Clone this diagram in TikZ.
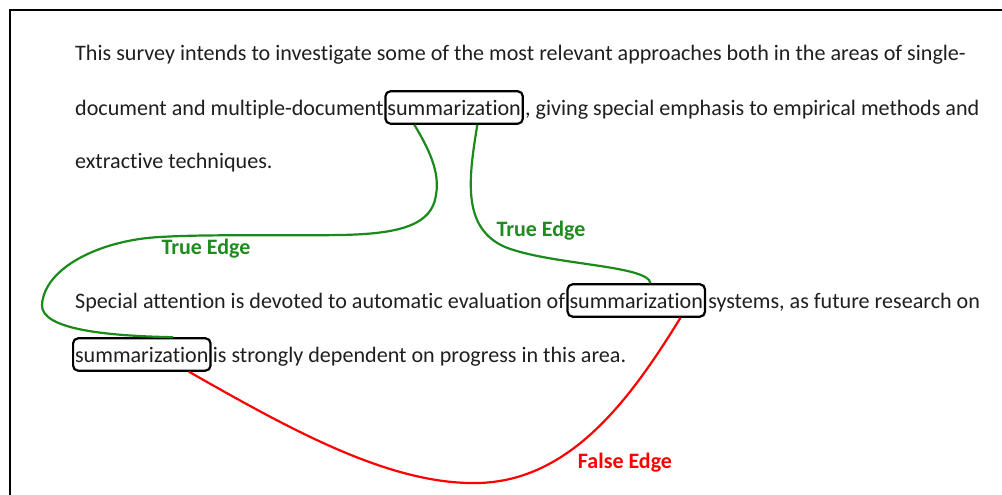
\documentclass[tikz,border=0pt]{standalone}
\usepackage{fontspec}
\setmainfont[Ligatures=NoCommon]{Carlito}
\usetikzlibrary{positioning}

\definecolor{edgegreen}{RGB}{26,138,26}
\definecolor{labelgreen}{RGB}{30,140,30}
\definecolor{edgered}{RGB}{255,0,0}

\begin{document}
\begin{tikzpicture}[x=1pt, y=-1pt,
    font=\fontsize{22.1}{26}\selectfont,
    txt/.style={inner sep=0pt, anchor=base west, text=black!88},
    wordbox/.style={draw, line width=2.2pt, rounded corners=5pt, inner xsep=2pt, inner ysep=8.5pt, anchor=base west, text=black!88},
    trueedge/.style={draw=edgegreen, line width=2.2pt},
    falseedge/.style={draw=edgered, line width=2.2pt},
    edgelabel/.style={font=\fontsize{22}{26}\selectfont\bfseries, inner sep=0pt}]
    \useasboundingbox (0,0) rectangle (1002,495);
    \clip (0,0) rectangle (1002,495);
    % page frame
    \draw[line width=1.6pt] (10,10) rectangle (1040,540);

    % first paragraph
    \node[txt] (l1) at (75,61) {This survey intends to investigate some of the most relevant approaches both in the areas of single-};
    \node[txt] (l2) at (75,115) {document and multiple-document};
    \node[wordbox] (w1) at ([xshift=0.5pt]l2.base east) {summarization};
    \node[txt] (l2b) at ([xshift=1pt]w1.base east) {, giving special emphasis to empirical methods and};
    \node[txt] (l3) at (75,168) {extractive techniques.};

    % second paragraph
    \node[txt] (l4) at (75,308) {Special attention is devoted to automatic evaluation of};
    \node[wordbox] (w2) at ([xshift=1pt]l4.base east) {summarization};
    \node[txt] (l4b) at ([xshift=2pt]w2.base east) {systems, as future research on};
    \node[wordbox] (w3) at (72,362) {summarization};
    \node[txt] (l5) at ([xshift=1pt]w3.base east) {is strongly dependent on progress in this area.};

    % edges between the occurrences
    \draw[trueedge] ([xshift=30pt]w1.south west)
        .. controls +(15,25) and (440,172) .. (436,195)
        .. controls (432,225) and (400,234) .. (340,235)
        .. controls (280,236) and (210,234) .. (160,237)
        .. controls (100,240) and (44,268) .. (42,305)
        .. controls (41,330) and (110,336) .. ([xshift=101pt]w3.north west);
    \draw[trueedge] ([xshift=93pt]w1.south west)
        .. controls +(-9,55) and (462,228) .. (505,247)
        .. controls (550,265) and (648,265) .. ([xshift=84pt]w2.north west);
    \draw[falseedge] ([xshift=117pt]w3.south west)
        .. controls +(102,58) and (390,485) .. (478,483)
        .. controls (570,481) and (630,400) .. ([xshift=114pt]w2.south west);

    \node[edgelabel, text=labelgreen] (t1) at (206,249) {True Edge};
    \node[edgelabel, text=labelgreen] (t2) at (541,231) {True Edge};
    \node[edgelabel, text=edgered] (f1) at (625,463) {False Edge};
\end{tikzpicture}
\end{document}
